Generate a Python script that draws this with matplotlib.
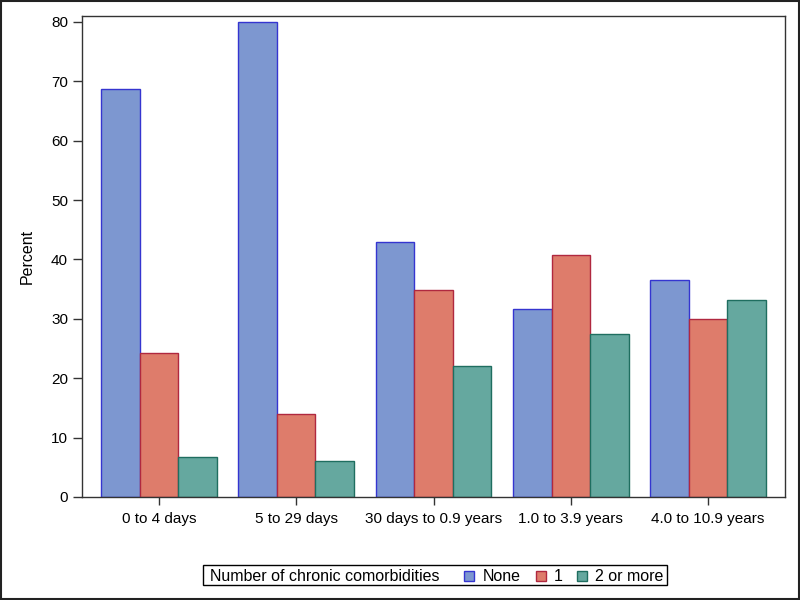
import matplotlib
matplotlib.use("Agg")
import matplotlib.pyplot as plt
from matplotlib.patches import Rectangle
import numpy as np

categories = ["0 to 4 days", "5 to 29 days", "30 days to 0.9 years",
              "1.0 to 3.9 years", "4.0 to 10.9 years"]
series_names = ["None", "1", "2 or more"]
none_vals = [68.7, 80.0, 42.9, 31.6, 36.6]
one_vals = [24.2, 13.9, 34.9, 40.8, 29.9]
two_vals = [6.7, 6.1, 22.1, 27.5, 33.2]
legend_title = "Number of chronic comorbidities"

fills = ["#7D97D0", "#DE7C6B", "#65A89F"]
edges = ["#3535D0", "#B0283F", "#1F6E60"]

plt.rcParams["font.family"] = ["Liberation Sans", "DejaVu Sans"]

W, H = 800, 600
fig = plt.figure(figsize=(8, 6), dpi=100)
ax = fig.add_axes([82 / W, 1 - 497 / H, (785 - 82) / W, (497 - 16) / H])

x = np.arange(len(categories))
w = 0.281
for i, vals in enumerate([none_vals, one_vals, two_vals]):
    ax.bar(x + (i - 1) * w, vals, width=w, color=fills[i],
           edgecolor=edges[i], linewidth=1.0, label=series_names[i], zorder=2)

ax.set_xlim(-0.56, 4.56)
ax.set_ylim(0, 81)
ax.set_yticks(range(0, 81, 10))
ax.set_xticks(x)
ax.set_xticklabels(categories)
ax.tick_params(axis="both", labelsize=11, width=1, color="#333333")
ax.tick_params(axis="y", length=6.5, pad=3.5)
ax.tick_params(axis="x", length=5.5, pad=5)
ax.set_ylabel("Percent", fontsize=11.5, labelpad=12)
for s in ax.spines.values():
    s.set_color("#333333")
    s.set_linewidth(1)

# legend drawn as a boxed row, laid out by measured text widths
fs = 11.5
box_left, box_right, box_top, box_bot = 203, 667, 565, 585
yc = 1 - (box_top + box_bot) / 2 / H
fig.canvas.draw()
renderer = fig.canvas.get_renderer()
cur = box_left + 7
t = fig.text(cur / W, yc, legend_title, fontsize=fs, va="center_baseline", ha="left")
cur += t.get_window_extent(renderer).width + 25
sq = 10
for i, name in enumerate(series_names):
    fig.patches.append(Rectangle((cur / W, yc - sq / 2 / H - 0.5 / H), sq / W, sq / H,
                                 transform=fig.transFigure, facecolor=fills[i],
                                 edgecolor=edges[i], linewidth=1.0))
    cur += sq + 8
    tt = fig.text(cur / W, yc, name, fontsize=fs, va="center_baseline", ha="left")
    cur += tt.get_window_extent(renderer).width + 15
fig.patches.append(Rectangle((box_left / W, 1 - box_bot / H),
                             (box_right - box_left) / W, (box_bot - box_top) / H,
                             transform=fig.transFigure, fill=False,
                             edgecolor="black", linewidth=1.0))

fig.patches.append(Rectangle((0.001, 0.001), 0.998, 0.997, transform=fig.transFigure,
                             fill=False, edgecolor="#222222", linewidth=1.5))

fig.savefig("out.png", dpi=100)
